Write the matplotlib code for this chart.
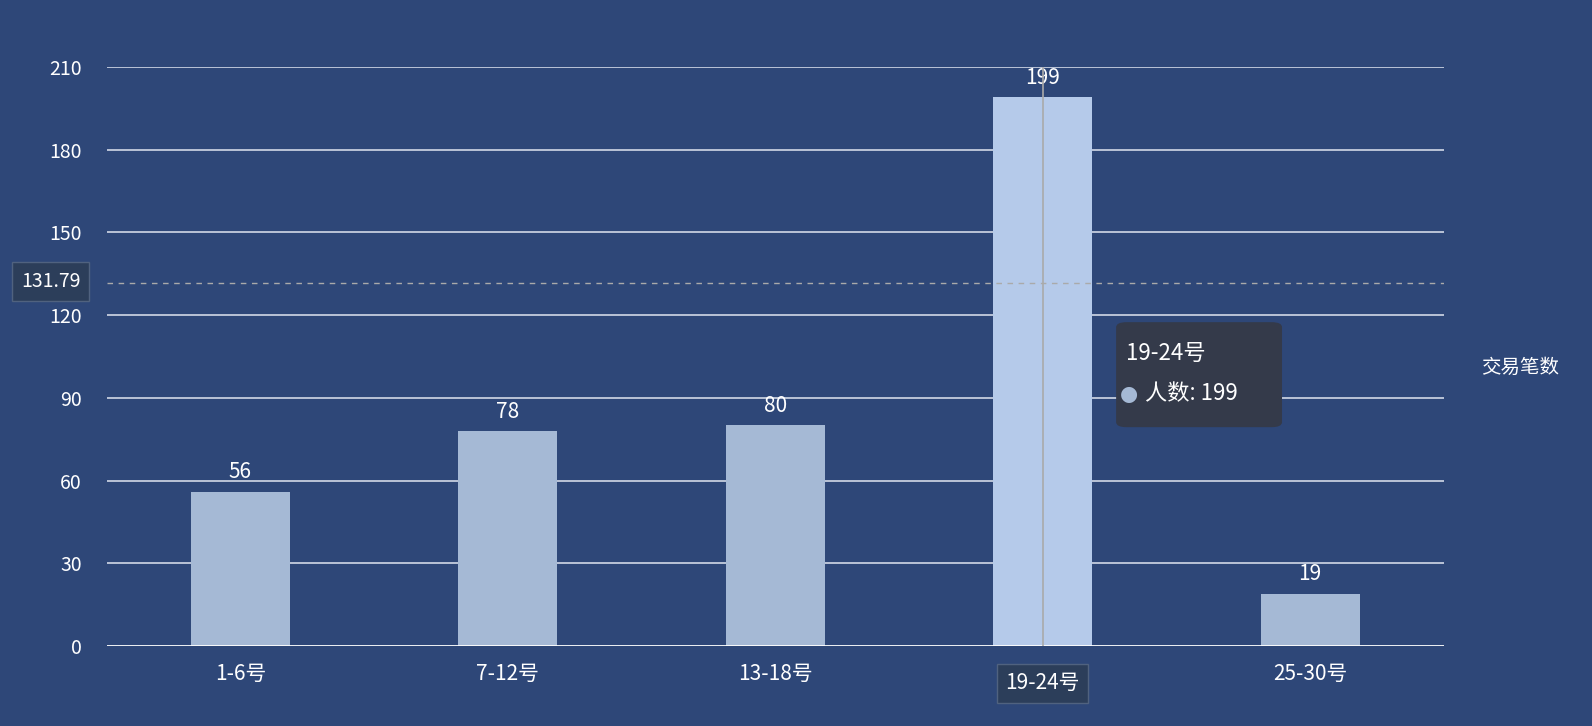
import matplotlib
matplotlib.use("Agg")
import matplotlib.pyplot as plt
from matplotlib.patches import FancyBboxPatch

plt.rcParams['font.family'] = ['Noto Sans CJK SC', 'DejaVu Sans']

categories = ["1-6号", "7-12号", "13-18号", "19-24号", "25-30号"]
values = [56, 78, 80, 199, 19]
yticks = [0, 30, 60, 90, 120, 150, 180, 210]
pointer_value = 131.79
highlight = 3
series_name = "人数"
axis_name = "交易笔数"

bg = "#2e4778"
W, H = 1592, 726
fig = plt.figure(figsize=(W/100, H/100), dpi=100, facecolor=bg)
ax = fig.add_axes([0.067, 0.110, 0.840, 0.798], facecolor=bg)

x = list(range(len(categories)))
colors = ["#b5caea" if i == highlight else "#a5b9d5" for i in x]
ax.bar(x, values, width=0.37, color=colors, zorder=3)
for i, v in zip(x, values):
    ax.text(i, v + 3, str(v), ha="center", va="bottom", color="white", fontsize=15, zorder=4)

ax.set_xlim(-0.5, len(categories) - 0.5)
ax.set_ylim(0, 210)
ax.set_yticks(yticks)
ax.set_yticklabels([str(t) for t in yticks], color="white", fontsize=14)
ax.set_xticks(x)
ax.set_xticklabels(categories, color="white", fontsize=15)
ax.tick_params(length=0, pad=12)
ax.tick_params(axis="y", pad=18)
for t in yticks[1:]:
    ax.axhline(t, color="#e0e6f1", lw=1.1, zorder=1)
for s in ax.spines.values():
    s.set_visible(False)
ax.axhline(0, color="white", lw=1.3, zorder=4)

# pointer lines
ax.axhline(pointer_value, color="#aaaaaa", lw=1, ls=(0, (4, 4)), zorder=5)
ax.axvline(highlight, color="#aaaaaa", lw=1.2, zorder=5)

# y pointer label
fig.text(0.032, 1 - 277/715, f"{pointer_value}", ha="center", va="center", color="white", fontsize=14,
         bbox=dict(boxstyle="square,pad=0.45", fc="#2c3e5a", ec="#50627f"))
# x pointer label
ax.text(highlight, -0.045, categories[highlight], transform=ax.get_xaxis_transform(), ha="center", va="top",
        color="white", fontsize=15, zorder=6,
        bbox=dict(boxstyle="square,pad=0.4", fc="#2c3e5a", ec="#50627f"))
ax.set_xticklabels([c if i != highlight else "" for i, c in enumerate(categories)])

# tooltip
tx0, ty0 = 1100/1568, 1 - 420/715
tw, th = 162/1568, 102/715
fig.patches.append(FancyBboxPatch((tx0, ty0), tw, th, boxstyle="round,pad=0,rounding_size=0.006",
                                  transform=fig.transFigure, fc="#343a4a", ec="#343a4a", zorder=10))
fig.text(tx0 + 0.006, 1 - 348/715, categories[highlight], color="white", fontsize=16, va="center", zorder=11)
fig.text(tx0 + 0.0075, 1 - 388/715, "●", color="#a5b9d5", fontsize=15, va="center", ha="center",
         family="DejaVu Sans", zorder=11)
fig.text(tx0 + 0.018, 1 - 388/715, f"{series_name}: {values[highlight]}", color="white", fontsize=16,
         va="center", zorder=11)

fig.text(1497/1568, 1 - 362/715, axis_name, color="white", fontsize=14, ha="center", va="center")

fig.savefig("out.png", dpi=100, facecolor=bg)
